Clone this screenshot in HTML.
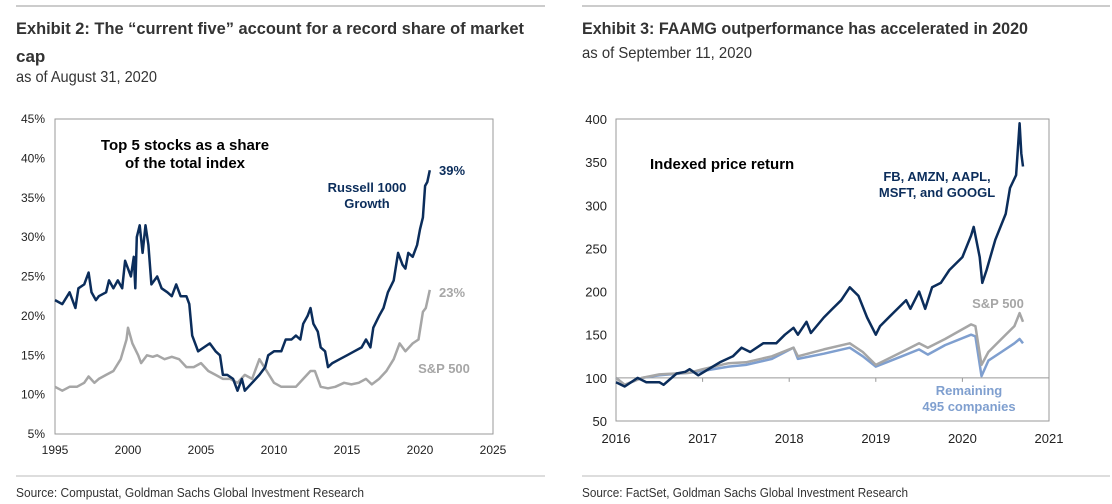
<!DOCTYPE html>
<html><head><meta charset="utf-8"><style>
body{margin:0;background:#fff;width:1112px;height:504px;overflow:hidden}
svg{display:block}
text{font-family:"Liberation Sans Narrow","Liberation Sans",sans-serif}
</style></head><body>
<svg id="s" width="1112" height="504" xmlns="http://www.w3.org/2000/svg">
<line x1="16" y1="6" x2="545" y2="6" stroke="#999"/>
<line x1="582" y1="6" x2="1110" y2="6" stroke="#999"/>
<line x1="16" y1="476" x2="545" y2="476" stroke="#bbb"/>
<line x1="582" y1="476" x2="1110" y2="476" stroke="#bbb"/>
<text x="16" y="34" font-size="17" font-weight="bold" fill="#333" textLength="508" lengthAdjust="spacingAndGlyphs">Exhibit 2: The “current five” account for a record share of market</text>
<text x="16" y="62" font-size="17" font-weight="bold" fill="#333">cap</text>
<text x="16" y="82" font-size="16" fill="#333" textLength="141" lengthAdjust="spacingAndGlyphs">as of August 31, 2020</text>
<text x="582" y="34" font-size="17" font-weight="bold" fill="#333" textLength="446" lengthAdjust="spacingAndGlyphs">Exhibit 3: FAAMG outperformance has accelerated in 2020</text>
<text x="582" y="58" font-size="16" fill="#333" textLength="170" lengthAdjust="spacingAndGlyphs">as of September 11, 2020</text>
<text x="16" y="497" font-size="13" fill="#333" textLength="348" lengthAdjust="spacingAndGlyphs">Source: Compustat, Goldman Sachs Global Investment Research</text>
<text x="582" y="497" font-size="13" fill="#333" textLength="326" lengthAdjust="spacingAndGlyphs">Source: FactSet, Goldman Sachs Global Investment Research</text>
<g id="L"></g><g id="R"></g>
</svg>
<script>
// Left chart data
const lYears=[1995,1995.5,1996,1996.4,1996.6,1997,1997.3,1997.5,1997.8,1998,1998.5,1998.7,1999,1999.3,1999.6,1999.8,2000,2000.2,2000.4,2000.5,2000.6,2000.8,2001,2001.2,2001.4,2001.6,2002,2002.3,2002.7,2003,2003.3,2003.6,2004,2004.2,2004.4,2004.8,2005.2,2005.6,2006,2006.3,2006.5,2006.8,2007.2,2007.5,2007.8,2008,2008.5,2009,2009.4,2009.6,2010,2010.5,2010.8,2011.2,2011.5,2011.8,2012,2012.3,2012.5,2012.7,2013,2013.2,2013.5,2013.7,2014,2014.5,2015,2015.5,2016,2016.3,2016.6,2016.8,2017.2,2017.5,2017.8,2018.2,2018.5,2018.8,2019,2019.2,2019.5,2019.8,2020,2020.2,2020.35,2020.5,2020.67];
const russell=[22,21.5,23,21,23.5,24,25.5,23,22,22.5,23,24.5,23.5,24.5,23.5,27,26,25,27.5,23.5,30,31.5,28,31.5,29,24,25,23.5,23,22.5,24,22.5,22.5,21.5,17.5,15.5,16,16.5,15.5,15,12.5,12.5,12,10.5,12,10.5,11.5,12.5,13.5,15,15.5,15.5,17,17,17.5,17,19,20,21,19,18,16,15.5,13.5,14,14.5,15,15.5,16,17,16,18.5,20,21,23,24.5,28,26.5,26,28,27.5,29,31,32.5,36.5,37,38.5];
const spYears=[1995,1995.5,1996,1996.5,1997,1997.3,1997.7,1998,1998.5,1999,1999.5,1999.9,2000,2000.3,2000.7,2000.9,2001.3,2001.7,2002,2002.5,2003,2003.5,2004,2004.5,2005,2005.5,2006,2006.5,2007,2007.5,2008,2008.5,2009,2009.5,2010,2010.5,2011,2011.5,2012,2012.5,2012.8,2013.2,2013.7,2014.2,2014.8,2015.3,2015.8,2016.3,2016.7,2017.2,2017.7,2018.2,2018.6,2019,2019.5,2019.9,2020.2,2020.4,2020.67];
const sp500=[11,10.5,11,11,11.5,12.3,11.5,12,12.5,13,14.5,17,18.5,16.5,15,14,15,14.8,15,14.5,14.8,14.5,13.5,13.5,14,13,12.5,12,12,11.5,12.5,12,14.5,13,11.5,11,11,11,12,13,13,11,10.8,11,11.5,11.3,11.5,12,11.3,12,13,14.5,16.5,15.5,16.5,17,20.5,21,23.3];
const lYTicks=[5,10,15,20,25,30,35,40,45];
const lXTicks=[1995,2000,2005,2010,2015,2020,2025];
// Right chart data
const fYears=[2016,2016.1,2016.25,2016.35,2016.5,2016.55,2016.7,2016.8,2016.85,2016.95,2017.1,2017.2,2017.35,2017.45,2017.55,2017.7,2017.85,2017.95,2018.05,2018.1,2018.2,2018.25,2018.4,2018.5,2018.6,2018.7,2018.8,2018.9,2019,2019.05,2019.2,2019.35,2019.4,2019.5,2019.57,2019.65,2019.75,2019.85,2020,2020.1,2020.13,2020.2,2020.23,2020.28,2020.38,2020.5,2020.55,2020.62,2020.66,2020.68,2020.7];
const faamg=[95,90,100,95,95,92,105,107,110,103,112,118,125,135,130,140,140,150,158,150,165,152,170,180,190,205,195,170,150,160,175,190,180,200,180,205,210,225,240,265,275,240,210,225,260,290,320,335,395,360,345];
const rYears=[2016,2016.1,2016.3,2016.5,2016.85,2017,2017.3,2017.5,2017.8,2018.05,2018.1,2018.4,2018.7,2018.85,2019,2019.3,2019.5,2019.6,2019.8,2020.1,2020.15,2020.22,2020.3,2020.45,2020.6,2020.66,2020.7];
const spIdx=[100,92,100,104,106,110,117,118,125,135,125,133,140,130,115,130,140,135,145,162,160,115,130,145,160,175,165];
const remaining=[100,92,100,103,106,108,113,115,122,135,122,128,135,125,113,125,133,127,138,150,148,102,120,130,140,145,140];
const rYTicks=[50,100,150,200,250,300,350,400];
const rXTicks=[2016,2017,2018,2019,2020,2021];

const NS="http://www.w3.org/2000/svg";
function mk(p,tag,attrs,txt){const e=document.createElementNS(NS,tag);for(const k in attrs)e.setAttribute(k,attrs[k]);if(txt!==undefined)e.textContent=txt;p.appendChild(e);return e;}
function path(xs,ys,fx,fy){return xs.map((x,i)=>(i?'L':'M')+fx(x).toFixed(1)+','+fy(ys[i]).toFixed(1)).join('');}

// Left
const L=document.getElementById('L');
const lx=v=>55+(v-1995)*(493-55)/30, ly=v=>434-(v-5)*(434-119)/40;
let e=mk(L,'rect',{x:55,y:119,width:438,height:315,fill:'none',stroke:'#999'});

lYTicks.forEach(t=>{const el=mk(L,'text',{x:45,y:ly(t)+4,'font-size':12,'text-anchor':'end',fill:'#222'},t+'%');
});
lXTicks.forEach(t=>{const el=mk(L,'text',{x:lx(t),y:454,'font-size':12,'text-anchor':'middle',fill:'#222'},String(t));
});
e=mk(L,'path',{d:path(spYears,sp500,lx,ly),fill:'none',stroke:'#a6a6a6','stroke-width':2.5,'stroke-linejoin':'round'});

e=mk(L,'path',{d:path(lYears,russell,lx,ly),fill:'none',stroke:'#0b2d5b','stroke-width':2.5,'stroke-linejoin':'round'});

[['Top 5 stocks as a share',185,150],['of the total index',185,168]].forEach(a=>{const el=mk(L,'text',{x:a[1],y:a[2],'font-size':15,'font-weight':'bold','text-anchor':'middle',fill:'#000'},a[0]);
});
[['Russell 1000',367,192,'#0b2d5b'],['Growth',367,208,'#0b2d5b'],['39%',452,175,'#0b2d5b'],['23%',452,297,'#a6a6a6'],['S&P 500',444,373,'#a6a6a6']].forEach(a=>{const el=mk(L,'text',{x:a[1],y:a[2],'font-size':13,'font-weight':'bold','text-anchor':'middle',fill:a[3]},a[0]);
});

// Right
const R=document.getElementById('R');
const rx=v=>616+(v-2016)*(1049-616)/5, ry=v=>421-(v-50)*(421-119)/350;
e=mk(R,'rect',{x:616,y:119,width:433,height:302,fill:'none',stroke:'#999'});

e=mk(R,'line',{x1:616,x2:1049,y1:ry(100),y2:ry(100),stroke:'#999'});

rXTicks.forEach(t=>{const el=mk(R,'line',{x1:rx(t),x2:rx(t),y1:ry(100),y2:ry(100)+4,stroke:'#999'});
});
rYTicks.forEach(t=>{const el=mk(R,'text',{x:607,y:ry(t)+5,'font-size':13,'text-anchor':'end',fill:'#222'},String(t));
});
rXTicks.forEach(t=>{const el=mk(R,'text',{x:rx(t),y:443,'font-size':13,'text-anchor':'middle',fill:'#222'},String(t));
});
e=mk(R,'path',{d:path(rYears,remaining,rx,ry),fill:'none',stroke:'#7f9fcf','stroke-width':2.5,'stroke-linejoin':'round'});

e=mk(R,'path',{d:path(rYears,spIdx,rx,ry),fill:'none',stroke:'#a6a6a6','stroke-width':2.5,'stroke-linejoin':'round'});

e=mk(R,'path',{d:path(fYears,faamg,rx,ry),fill:'none',stroke:'#0b2d5b','stroke-width':2.5,'stroke-linejoin':'round'});

e=mk(R,'text',{x:650,y:169,'font-size':15,'font-weight':'bold',fill:'#000'},'Indexed price return');

[['FB, AMZN, AAPL,',937,181,'#0b2d5b'],['MSFT, and GOOGL',937,197,'#0b2d5b'],['S&P 500',998,308,'#a6a6a6'],['Remaining',969,395,'#7f9fcf'],['495 companies',969,411,'#7f9fcf']].forEach(a=>{const el=mk(R,'text',{x:a[1],y:a[2],'font-size':13,'font-weight':'bold','text-anchor':'middle',fill:a[3]},a[0]);
});
</script>
</body></html>
